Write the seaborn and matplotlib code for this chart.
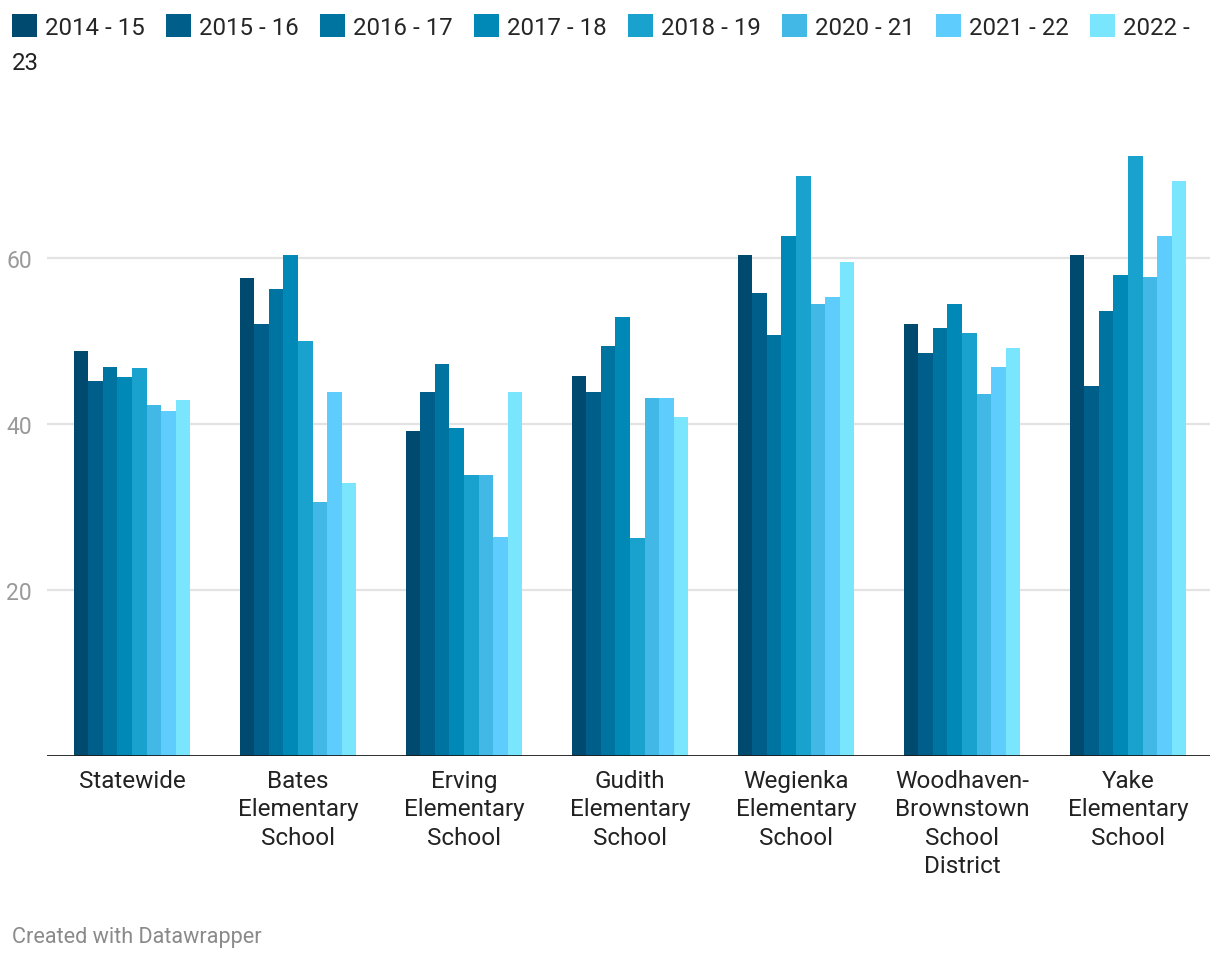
import pandas as pd
import numpy as np
import matplotlib
matplotlib.use("Agg")
import matplotlib.pyplot as plt
import seaborn as sns
from matplotlib.patches import Patch

schools = ['Statewide', 'Bates\nElementary\nSchool', 'Erving\nElementary\nSchool',
           'Gudith\nElementary\nSchool', 'Wegienka\nElementary\nSchool',
           'Woodhaven-\nBrownstown\nSchool\nDistrict', 'Yake\nElementary\nSchool']
years = ['2014 - 15', '2015 - 16', '2016 - 17', '2017 - 18',
         '2018 - 19', '2020 - 21', '2021 - 22', '2022 - 23']
colors = ['#004a6f', '#005f8a', '#0074a0', '#0089b7',
          '#1aa2cf', '#42b8e6', '#5ecdfd', '#7ae6fd']

# one list per school, in year order
statewide = [48.8, 45.2, 46.9, 45.7, 46.7, 42.3, 41.6, 42.9]
bates = [57.6, 52.0, 56.3, 60.4, 50.0, 30.6, 43.9, 32.9]
erving = [39.2, 43.9, 47.2, 39.5, 33.9, 33.9, 26.4, 43.9]
gudith = [45.8, 43.9, 49.4, 52.9, 26.3, 43.1, 43.1, 40.8]
wegienka = [60.4, 55.8, 50.7, 62.7, 69.9, 54.5, 55.3, 59.5]
woodhaven = [52.0, 48.6, 51.6, 54.5, 51.0, 43.6, 46.9, 49.2]
yake = [60.4, 44.6, 53.6, 58.0, 72.3, 57.7, 62.7, 69.3]

rows = []
for s, vals in zip(schools, [statewide, bates, erving, gudith, wegienka, woodhaven, yake]):
    for y, v in zip(years, vals):
        rows.append({'school': s, 'year': y, 'value': v})
df = pd.DataFrame(rows)

sns.set_style('white')
plt.rcParams['font.family'] = ['Roboto', 'DejaVu Sans']

fig = plt.figure(figsize=(12.2, 9.62), dpi=100)
ax = fig.add_axes([47 / 1220, 205 / 962, 1163 / 1220, 657 / 962])

sns.barplot(data=df, x='school', y='value', hue='year', palette=colors,
            width=0.7, saturation=1, ax=ax, legend=False, linewidth=0)

ax.set_ylim(0, 657 / 8.3)
ax.set_xlim(-0.512, 6.494)
ax.set_yticks([20, 40, 60])
for yv in [20, 40, 60]:
    ax.axhline(yv, color='#e3e3e3', lw=1.6, zorder=0)
ax.axhline(0, color='#1a1a1a', lw=2, zorder=3)
for sp in ax.spines.values():
    sp.set_visible(False)
ax.set_xlabel('')
ax.set_ylabel('')
ax.tick_params(axis='y', length=0, pad=11, labelsize=16.5, labelcolor='#9a9a9a')
ax.tick_params(axis='x', length=0, pad=9.5, labelsize=17.5, labelcolor='#222222')
for t in ax.get_xticklabels():
    t.set_linespacing(1.29)

handles = [Patch(facecolor=c, edgecolor='none') for c in colors]
labels = years[:-1] + ['2022 -']
fig.legend(handles, labels, ncol=8, loc='upper left', bbox_to_anchor=(12 / 1220, 1 - 15 / 962),
           frameon=False, fontsize=17.3, handlelength=1.04, handleheight=1.08,
           handletextpad=0.33, columnspacing=0.89, borderaxespad=0, borderpad=0)
fig.text(12 / 1220, 1 - 63 / 962, '23', fontsize=17.3, color='#222222', va='center')

fig.text(12 / 1220, 1 - 938 / 962, 'Created with Datawrapper', fontsize=15.6,
         color='#8a8a8a', va='center')

fig.savefig('out.png', dpi=100)
